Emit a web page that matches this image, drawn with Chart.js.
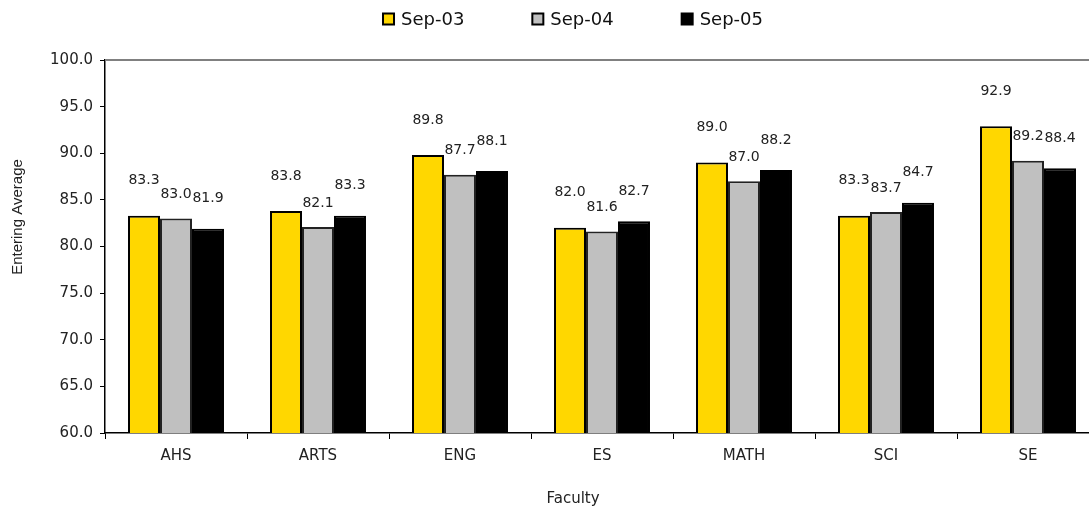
<!DOCTYPE html>
<html lang="en">
<head>
    <meta charset="UTF-8">
    <title>Entering Average by Faculty</title>
    <script src="https://cdn.jsdelivr.net/npm/chart.js@4.4.0/dist/chart.umd.min.js"></script>
    <style>
        body {
            margin: 0;
            background: #ffffff;
            overflow: hidden;
        }
        #chart {
            display: block;
        }
    </style>
</head>
<body>
    <canvas id="chart" width="1146" height="512"></canvas>

    <script>
        // Data
        const faculties = ['AHS', 'ARTS', 'ENG', 'ES', 'MATH', 'SCI', 'SE'];
        const seriesNames = ['Sep-03', 'Sep-04', 'Sep-05'];
        const sep03 = [83.3, 83.8, 89.8, 82.0, 89.0, 83.3, 92.9];
        const sep04 = [83.0, 82.1, 87.7, 81.6, 87.0, 83.7, 89.2];
        const sep05 = [81.9, 83.3, 88.1, 82.7, 88.2, 84.7, 88.4];
        const yTicks = [60, 65, 70, 75, 80, 85, 90, 95, 100];

        const colors = ['#ffd700', '#c0c0c0', '#000000'];
        const labelLift = [35, 24, 30];

        // value labels above each bar
        const valueLabels = {
            id: 'valueLabels',
            afterDatasetsDraw(chart) {
                const ctx = chart.ctx;
                ctx.save();
                ctx.font = '14px "DejaVu Sans"';
                ctx.fillStyle = '#222222';
                ctx.textAlign = 'center';
                ctx.textBaseline = 'middle';
                chart.data.datasets.forEach((ds, i) => {
                    chart.getDatasetMeta(i).data.forEach((bar, j) => {
                        ctx.fillText(ds.data[j].toFixed(1), bar.x, bar.y - labelLift[i]);
                    });
                });
                ctx.restore();
            }
        };

        // legend, axis titles and top frame line
        const extras = {
            id: 'extras',
            afterDraw(chart) {
                const ctx = chart.ctx;
                const area = chart.chartArea;
                const mid = chart.width / 2;
                ctx.save();

                ctx.strokeStyle = '#808080';
                ctx.lineWidth = 2;
                ctx.beginPath();
                ctx.moveTo(area.left, area.top);
                ctx.lineTo(area.right, area.top);
                ctx.stroke();

                // legend
                ctx.font = '18px "DejaVu Sans"';
                ctx.textBaseline = 'middle';
                ctx.textAlign = 'left';
                const box = 11, gap = 7, spacing = 68;
                const widths = seriesNames.map(n => box + gap + ctx.measureText(n).width);
                const total = widths.reduce((a, b) => a + b, 0) + spacing * (widths.length - 1);
                let x = mid - total / 2;
                const ly = 19;
                seriesNames.forEach((n, i) => {
                    ctx.fillStyle = colors[i];
                    ctx.fillRect(x, ly - box / 2, box, box);
                    ctx.strokeStyle = '#000000';
                    ctx.lineWidth = 2;
                    ctx.strokeRect(x, ly - box / 2, box, box);
                    ctx.fillStyle = '#111111';
                    ctx.fillText(n, x + box + gap, ly + 1);
                    x += widths[i] + spacing;
                });

                // axis titles
                ctx.fillStyle = '#222222';
                ctx.textAlign = 'center';
                ctx.font = '15px "DejaVu Sans"';
                ctx.fillText('Faculty', mid, 499);

                ctx.font = '15px "Liberation Sans"';
                ctx.translate(18, 217);
                ctx.rotate(-Math.PI / 2);
                ctx.fillText('Entering Average', 0, 0);
                ctx.restore();
            }
        };

        new Chart(document.getElementById('chart'), {
            type: 'bar',
            data: {
                labels: faculties,
                datasets: [sep03, sep04, sep05].map((vals, i) => ({
                    label: seriesNames[i],
                    data: vals,
                    backgroundColor: colors[i],
                    borderColor: i === 1 ? '#222222' : '#000000',
                    borderWidth: 2,
                    barPercentage: 1.0,
                    categoryPercentage: 0.676
                }))
            },
            options: {
                responsive: false,
                animation: false,
                layout: {
                    padding: { top: 60, right: 47, bottom: 0, left: 0 }
                },
                plugins: {
                    legend: { display: false },
                    tooltip: { enabled: false }
                },
                scales: {
                    x: {
                        grid: {
                            offset: true,
                            drawOnChartArea: false,
                            color: '#000000',
                            tickLength: 6
                        },
                        border: { color: '#000000', width: 1.5 },
                        ticks: {
                            color: '#222222',
                            font: { family: 'DejaVu Sans', size: 15 },
                            padding: 8
                        },
                        afterFit(scale) { scale.height = 79; }
                    },
                    y: {
                        min: 60,
                        max: 100,
                        afterBuildTicks(scale) {
                            scale.ticks = yTicks.map(v => ({ value: v }));
                        },
                        grid: {
                            drawOnChartArea: false,
                            color: '#000000',
                            tickLength: 5
                        },
                        border: { color: '#000000', width: 1.5 },
                        ticks: {
                            color: '#222222',
                            font: { family: 'DejaVu Sans', size: 15 },
                            padding: 7,
                            callback: v => v.toFixed(1)
                        },
                        afterFit(scale) { scale.width = 105; }
                    }
                }
            },
            plugins: [valueLabels, extras]
        });
    </script>
</body>
</html>
